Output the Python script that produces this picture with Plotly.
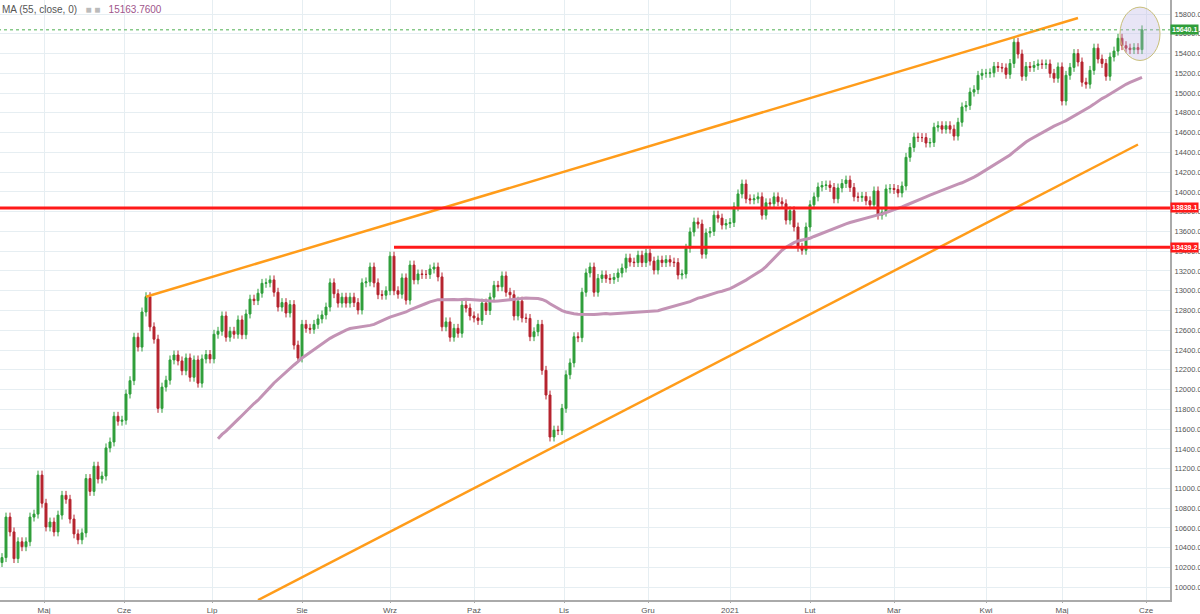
import plotly.graph_objects as go
import pandas as pd

closes = [10300,10710,10560,10290,10460,10410,10460,10710,10740,11135,10850,10610,10660,10560,10730,10930,10890,10690,10540,10480,
10550,11100,10970,11225,11095,11125,11410,11470,11730,11680,11690,11955,12090,12530,12430,12785,12940,12635,12510,11810,
12025,12095,12300,12350,12290,12190,12320,12125,12300,12065,12310,12355,12310,12560,12590,12745,12530,12590,12560,12705,
12555,12765,12915,12900,12975,13075,13080,13110,12985,12835,12880,12775,12860,12450,12320,12660,12620,12610,12660,12715,
12755,12835,13080,12970,12875,12935,12875,12935,12880,12805,13080,13090,13240,13080,12960,12955,13000,13350,13000,12965,
13130,12905,13260,13110,13170,13165,13165,13220,13240,13140,12635,12685,12530,12620,12570,12855,12825,12745,12725,12700,
12875,12800,12935,13055,13040,13150,12985,12960,12745,12895,12725,12720,12535,12585,12660,12195,11945,11520,11590,11585,
11810,12150,12270,12535,12525,12985,13180,13240,12985,13125,13160,13125,13115,13135,13180,13230,13330,13290,13285,13360,
13285,13380,13300,13210,13310,13285,13315,13290,13285,13160,13170,13430,13595,13695,13675,13370,13585,13600,13765,13735,
13665,13680,13690,13850,13980,14080,13930,13920,13930,13950,13765,13890,13880,13950,13900,13880,13715,13810,13645,13440,
13410,13645,13870,13950,14050,14065,14070,14045,13930,14040,14085,14120,14045,13950,13945,13955,13910,13870,14010,13765,
13795,14030,14035,14025,13990,14060,14350,14450,14555,14550,14550,14495,14500,14655,14670,14635,14670,14635,14565,14705,
14860,14875,15010,15035,15180,15200,15200,15205,15270,15260,15255,15190,15300,15515,15395,15170,15270,15260,15280,15295,
15290,15295,15200,15150,15265,14920,15180,15260,15400,15315,15110,15090,15230,15455,15345,15300,15170,15365,15425,15555,
15480,15455,15440,15460,15440,15640]
first_open = 10250
wick = 45

month_idx = [10.5, 30.5, 52.5, 75, 97, 118, 140.5, 161.5, 182, 202, 223, 246, 265, 286]
month_lbl = ["Maj", "Cze", "Lip", "Sie", "Wrz", "Paź", "Lis", "Gru", "2021", "Lut", "Mar", "Kwi", "Maj", "Cze"]

upper_trend_x = [36, 269]; upper_trend_y = [12940, 15760]
lower_trend_x = [64, 284]; lower_trend_y = [9870, 14480]
res1_start, res1 = -1, 13838.1
res2_start, res2 = 98, 13439.2
last_price = 15640.1
ma_label = "15163.7600"

idx = list(range(len(closes)))
opens = [first_open] + closes[:-1]
highs = [max(o, c) + wick for o, c in zip(opens, closes)]
lows = [min(o, c) - wick for o, c in zip(opens, closes)]
ma = pd.Series(closes).rolling(55).mean()

fig = go.Figure()
fig.add_trace(go.Candlestick(x=idx, open=opens, high=highs, low=lows, close=closes,
    increasing=dict(line=dict(color="#2f9e3a", width=1), fillcolor="#2f9e3a"),
    decreasing=dict(line=dict(color="#b5232e", width=1), fillcolor="#b5232e"),
    whiskerwidth=0, showlegend=False, hoverinfo="skip"))
fig.add_trace(go.Scatter(x=idx, y=ma, mode="lines", line=dict(color="#c393b5", width=3), showlegend=False))
fig.add_trace(go.Scatter(x=upper_trend_x, y=upper_trend_y, mode="lines", line=dict(color="#ff9c1a", width=2.5), showlegend=False))
fig.add_trace(go.Scatter(x=lower_trend_x, y=lower_trend_y, mode="lines", line=dict(color="#ff9c1a", width=2.5), showlegend=False))
fig.add_trace(go.Scatter(x=[res1_start, 292], y=[res1, res1], mode="lines", line=dict(color="#ff1a1a", width=3), showlegend=False))
fig.add_trace(go.Scatter(x=[res2_start, 292], y=[res2, res2], mode="lines", line=dict(color="#ff1a1a", width=3), showlegend=False))
fig.add_trace(go.Scatter(x=[-1, 292], y=[last_price, last_price], mode="lines", line=dict(color="#4caf50", width=1, dash="dot"), showlegend=False))

fig.add_shape(type="circle", xref="x", yref="y", x0=279.5, x1=289.5, y0=15330, y1=15870,
              fillcolor="rgba(190,180,230,0.35)", line=dict(color="#c9bf7a", width=1))

for val, col in [(last_price, "#2f9e3a"), (res1, "#ff1a1a"), (res2, "#ff1a1a")]:
    fig.add_annotation(x=1, xref="paper", y=val, yref="y", text=f"<b>{val:.1f}</b>", showarrow=False,
                       xanchor="left", xshift=0, bgcolor=col, font=dict(color="white", size=7, family="Arial"), borderpad=1)

fig.add_annotation(x=0, xref="paper", y=1, yref="paper", yshift=-2, xanchor="left", yanchor="top", showarrow=False,
                   text="MA (55, close, 0)   <span style='color:#bbb'>■ ■</span>   <span style='color:#a0558b'>" + ma_label + "</span>",
                   font=dict(size=10, color="#555", family="Arial"))

fig.update_layout(width=1200, height=614, margin=dict(l=0, r=30, t=0, b=14, autoexpand=False),
    plot_bgcolor="white", paper_bgcolor="white",
    xaxis=dict(range=[-0.5, 292], rangeslider=dict(visible=False), tickvals=month_idx, ticktext=month_lbl,
               showgrid=True, gridcolor="#e6eef2", tickfont=dict(size=8, color="#555", family="Arial"),
               showline=True, linecolor="#aaa", linewidth=2, ticks="outside", ticklen=1, tickcolor="#aaa",
               zeroline=False, automargin=False),
    yaxis=dict(side="right", range=[9871, 15942], dtick=200, tick0=10000, tickformat=".1f",
               showgrid=True, gridcolor="#e6eef2", tickfont=dict(size=7.5, color="#555", family="Arial"),
               showline=True, linecolor="#aaa", linewidth=2, ticks="", ticklabelstandoff=1,
               zeroline=False, automargin=False),
    font=dict(family="Arial"))
fig.write_html("out.html", config={"displayModeBar": False},
               post_script="document.body.style.margin='0';document.body.style.overflow='hidden';")
